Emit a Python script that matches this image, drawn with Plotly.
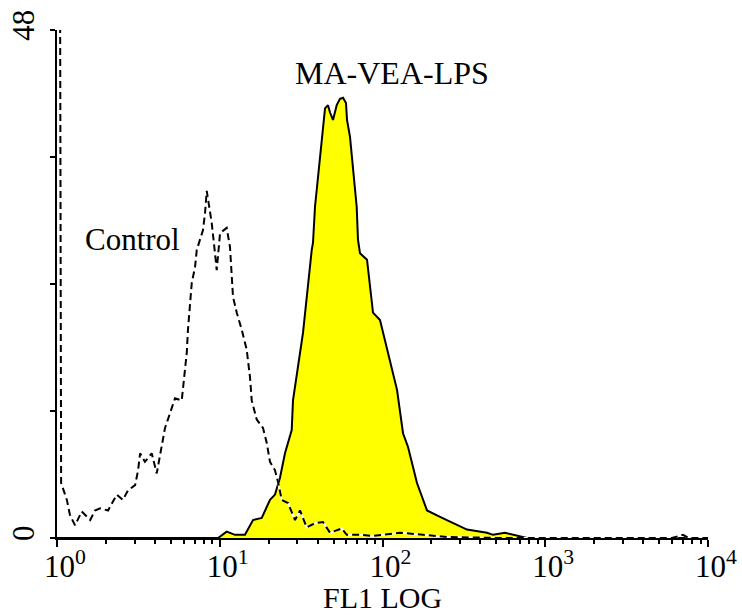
import plotly.graph_objects as go

# FL1 intensity (log scale) and counts
ctrl_fl1 = [1.04, 1.06, 1.15, 1.20, 1.29, 1.42, 1.60, 1.71, 1.84, 2.06, 2.33, 2.54, 2.73, 3.02, 3.15,
            3.24, 3.47, 3.82, 4.10, 4.40, 4.61, 4.95, 5.31, 5.84, 5.95, 6.12, 6.27, 6.38, 6.57, 6.73,
            7.05, 7.22, 7.89, 8.12, 8.32, 8.92, 9.35, 9.58, 10.04, 11.03, 11.56, 11.84, 12.06, 12.71,
            13.64, 14.64, 15.34, 15.72, 16.87, 18.44, 19.43, 20.36, 21.85, 22.80, 24.03, 26.27, 29.00,
            31.13, 34.21, 38.48, 43.10, 47.59, 56.14, 60.26, 72.74, 87.44, 128.1, 177.4, 249.0, 527.2,
            6000, 7021, 7600, 10000]
ctrl_count = [65, 5.2, 3.6, 2.2, 1.2, 2.5, 1.7, 2.6, 2.8, 2.6, 4.1, 3.6, 4.5, 5.0, 6.4,
              8.0, 7.2, 8.0, 6.1, 8.6, 10.4, 11.8, 13.2, 13.0, 14.3, 15.9, 17.5, 19.7, 22.2, 24.1,
              25.6, 27.2, 29.1, 30.7, 32.8, 29.8, 26.9, 25.3, 28.8, 29.3, 27.5, 25.3, 22.8, 21.3,
              19.7, 17.8, 15.2, 13.0, 11.2, 10.4, 9.0, 7.2, 6.4, 5.3, 3.6, 3.3, 1.7,
              2.6, 1.0, 1.4, 1.5, 0.5, 0.9, 0.3, 0.3, 0.2, 0.5, 0.3, 0.1, 0,
              0, 0.3, 0, 0]

lps_fl1 = [1.0, 9.76, 11.03, 12.41, 14.29, 16.01, 18.11, 20.36, 21.85, 23.45, 25.17, 27.68, 28.19,
           32.48, 36.73, 37.41, 38.48, 40.15, 41.30, 42.31, 43.10, 44.34, 46.26, 47.59, 49.65, 52.31,
           54.82, 57.19, 59.67, 60.52, 63.14, 65.88, 69.41, 70.69, 72.74, 80.32, 87.44, 96.52, 106.6,
           122.8, 133.7, 143.5, 162.9, 187.7, 225.6, 271.2, 330.5, 438.6, 477.5, 565.9, 730.0, 772.5,
           10000]
lps_count = [0, 0, 0.6, 0.3, 0.3, 1.7, 1.9, 3.6, 4.1, 5.7, 8.0, 10.2, 13.0,
             19.4, 27.2, 27.9, 31.3, 34.1, 35.7, 37.3, 38.8, 40.6, 40.9, 40.2, 39.5, 40.9,
             41.5, 41.6, 41.1, 39.5, 37.9, 34.8, 31.3, 28.2, 26.9, 26.3, 21.3, 20.6, 17.8,
             14.0, 9.9, 8.6, 5.2, 2.6, 2.0, 1.4, 0.8, 0.5, 0.3, 0.5, 0.1, 0,
             0]

x_tickvals = [1, 10, 100, 1000, 10000]
x_ticktext = ["10<sup>0</sup>", "10<sup>1</sup>", "10<sup>2</sup>", "10<sup>3</sup>", "10<sup>4</sup>"]
y_tickvals = [0, 48]
y_ticktext = ["0", "48"]
y_minor_vals = [12, 24, 36]
x_title = "FL1 LOG"

FONT = "'Liberation Serif', 'Times New Roman', 'DejaVu Serif', serif"

fig = go.Figure()
fig.add_trace(go.Scatter(x=lps_fl1, y=lps_count, mode="lines", fill="tozeroy",
                         fillcolor="#FFFF00", line=dict(color="black", width=2),
                         showlegend=False, hoverinfo="skip"))
fig.add_trace(go.Scatter(x=ctrl_fl1, y=ctrl_count, mode="lines",
                         line=dict(color="white", width=2),
                         showlegend=False, hoverinfo="skip"))
fig.add_trace(go.Scatter(x=ctrl_fl1, y=ctrl_count, mode="lines",
                         line=dict(color="black", width=2, dash="7px,4px"),
                         showlegend=False, hoverinfo="skip"))

fig.update_layout(
    width=742, height=615,
    margin=dict(l=57, r=34, t=30, b=77),
    paper_bgcolor="white", plot_bgcolor="white",
    font=dict(family=FONT, size=30, color="black"),
    xaxis=dict(type="log", range=[0, 4], showgrid=False, zeroline=False, automargin=False,
               showline=True, linecolor="black", linewidth=2,
               tickmode="array", tickvals=x_tickvals, ticktext=x_ticktext,
               ticks="outside", ticklen=7, tickwidth=2, tickcolor="black",
               ticklabelshift=8, ticklabelstandoff=-7,
               tickfont=dict(family=FONT, size=31),
               minor=dict(ticks="outside", ticklen=4, tickwidth=2, tickcolor="black",
                          dtick="D1", showgrid=False)),
    yaxis=dict(range=[0, 48], showgrid=False, zeroline=False, automargin=False,
               showline=True, linecolor="black", linewidth=2,
               tickmode="array", tickvals=y_tickvals, ticktext=y_ticktext,
               ticks="outside", ticklen=5, tickwidth=2, tickcolor="black",
               tickfont=dict(family=FONT, size=31),
               tickangle=-90, ticklabelstandoff=4,
               minor=dict(tickmode="array", tickvals=y_minor_vals, ticks="outside",
                          ticklen=5, tickwidth=2, tickcolor="black", showgrid=False)),
    annotations=[
        dict(x=2.058, y=43.9, xref="x", yref="y", text="MA-VEA-LPS", showarrow=False,
             font=dict(family=FONT, size=32, color="black")),
        dict(x=0.461, y=28.2, xref="x", yref="y", text="Control", showarrow=False,
             font=dict(family=FONT, size=31, color="black")),
        dict(x=0.5, y=-0.1516, xref="paper", yref="paper", text=x_title, showarrow=False,
             xanchor="center", yanchor="bottom", borderpad=0,
             font=dict(family=FONT, size=30, color="black")),
    ],
)

fig.write_html("out.html")
